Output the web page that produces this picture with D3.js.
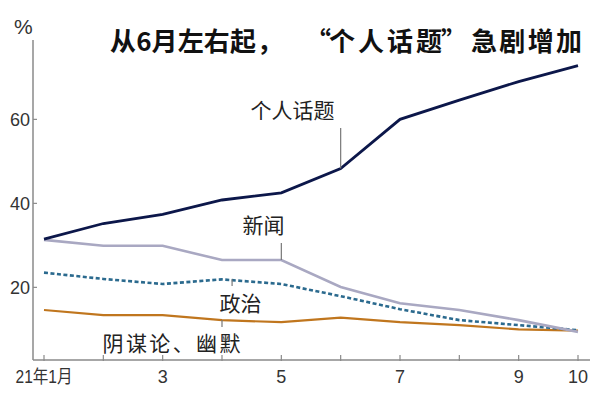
<!DOCTYPE html>
<html>
<head>
<meta charset="utf-8">
<script src="https://cdn.jsdelivr.net/npm/d3@7"></script>
<style>
  body { margin: 0; background: #fff; }
  svg { display: block; }
  .tick-label { font-family: "Liberation Sans Narrow", "Liberation Sans", Arial, "Noto Sans CJK SC", sans-serif; font-size: 18px; fill: #333; }
  .cjk { font-family: "Noto Sans CJK SC", sans-serif; }
</style>
</head>
<body>
<div id="chart"></div>
<script>
// months Jan-Oct 2021
var months = [1, 2, 3, 4, 5, 6, 7, 8, 9, 10];
var personal = [31.5, 35.2, 37.4, 40.8, 42.5, 48.3, 60.0, 64.6, 69.0, 72.8];
var news = [31.3, 29.9, 29.9, 26.5, 26.5, 20.1, 16.2, 14.6, 12.2, 9.4];
var politics = [23.5, 22.0, 20.8, 21.9, 20.8, 17.9, 14.8, 12.2, 11.0, 9.8];
var conspiracy = [14.6, 13.4, 13.4, 12.2, 11.7, 12.8, 11.7, 11.0, 10.0, 9.7];
var yTicks = [20, 40, 60];
var xLabels = {1: "21年1月", 3: "3", 5: "5", 7: "7", 9: "9", 10: "10"};

var svgWidth = 600;
var svgHeight = 396;

var svg = d3.select("#chart")
  .append("svg")
  .attr("width", svgWidth)
  .attr("height", svgHeight);

var x = d3.scaleLinear().domain([1, 10]).range([44, 578]);
var y = d3.scaleLinear().domain([2.7, 78.9]).range([360, 40]);

// axes
var axisColor = "#8a8a8a";
svg.append("line")
  .attr("x1", 33).attr("x2", 33)
  .attr("y1", 40).attr("y2", 360)
  .attr("stroke", axisColor).attr("stroke-width", 1.5);
svg.append("line")
  .attr("x1", 33).attr("x2", 590)
  .attr("y1", 360).attr("y2", 360)
  .attr("stroke", axisColor).attr("stroke-width", 1.5);

// y ticks (inward)
var yAxis = svg.append("g");
yTicks.forEach(function(t) {
  yAxis.append("line")
    .attr("x1", 33).attr("x2", 37)
    .attr("y1", y(t)).attr("y2", y(t))
    .attr("stroke", axisColor).attr("stroke-width", 1.2);
  yAxis.append("text")
    .attr("class", "tick-label")
    .attr("x", 30)
    .attr("y", y(t))
    .attr("dy", "0.36em")
    .attr("text-anchor", "end")
    .text(t);
});

svg.append("text")
  .attr("class", "tick-label")
  .style("font-size", "21px")
  .attr("x", 14)
  .attr("y", 34)
  .text("%");

// x ticks
var xAxis = svg.append("g");
months.forEach(function(m) {
  xAxis.append("line")
    .attr("x1", x(m)).attr("x2", x(m))
    .attr("y1", 355).attr("y2", 361)
    .attr("stroke", axisColor).attr("stroke-width", 1.2);
  if (xLabels[m]) {
    var t = xAxis.append("text")
      .attr("class", "tick-label")
      .attr("x", x(m))
      .attr("y", 383)
      .attr("text-anchor", "middle")
      .text(xLabels[m]);
    // first label is squeezed in the original
    if (m === 1) {
      t.attr("textLength", 57)
        .attr("lengthAdjust", "spacingAndGlyphs");
    }
  }
});

// lines
var line = d3.line()
  .x(function(d, i) { return x(months[i]); })
  .y(function(d) { return y(d); });

svg.append("path")
  .datum(conspiracy)
  .attr("d", line)
  .attr("fill", "none")
  .attr("stroke", "#c0761e")
  .attr("stroke-width", 2.2);

svg.append("path")
  .datum(politics)
  .attr("d", line)
  .attr("fill", "none")
  .attr("stroke", "#2b6a8e")
  .attr("stroke-width", 2.6)
  .attr("stroke-dasharray", "4,2.5");

svg.append("path")
  .datum(news)
  .attr("d", line)
  .attr("fill", "none")
  .attr("stroke", "#a9a8c2")
  .attr("stroke-width", 2.6);

svg.append("path")
  .datum(personal)
  .attr("d", line)
  .attr("fill", "none")
  .attr("stroke", "#0c174a")
  .attr("stroke-width", 2.8);

// leader lines
var leaderColor = "#777";
function leader(x1, y1, y2) {
  svg.append("line")
    .attr("x1", x1).attr("x2", x1)
    .attr("y1", y1).attr("y2", y2)
    .attr("stroke", leaderColor).attr("stroke-width", 1.2);
}
leader(x(6), 128, y(personal[5]));
leader(x(5), 243, y(news[4]));
leader(x(4.17), y(politics[3]), 286);
leader(x(4), y(conspiracy[3]), 327);

// series labels
function label(text, cx, baseline, len) {
  var t = svg.append("text")
    .attr("class", "cjk")
    .attr("x", cx)
    .attr("y", baseline)
    .attr("text-anchor", "middle")
    .attr("font-size", 21)
    .attr("fill", "#222")
    .text(text);
  if (len) t.attr("textLength", len).attr("lengthAdjust", "spacing");
}
label("个人话题", 292.5, 118);
label("新闻", 263.5, 233);
label("政治", 240.5, 311);
label("阴谋论、幽默", 171.5, 351, 138);

// title, set in pieces so the full-width punctuation gets its room
var titleParts = [
  {text: "从6月左右起", x: 110, anchor: "start", len: 146},
  {text: "，", x: 257, anchor: "start"},
  {text: "“", x: 331, anchor: "end"},
  {text: "个人话题", x: 329, anchor: "start", len: 113},
  {text: "”", x: 441, anchor: "start"},
  {text: "急剧增加", x: 582, anchor: "end", len: 111}
];
var title = svg.append("g");
titleParts.forEach(function(p) {
  var t = title.append("text")
    .attr("class", "cjk")
    .attr("x", p.x)
    .attr("y", 51)
    .attr("font-size", 26)
    .attr("font-weight", 700)
    .attr("fill", "#111")
    .attr("text-anchor", p.anchor)
    .text(p.text);
  if (p.len) t.attr("textLength", p.len).attr("lengthAdjust", "spacing");
});
</script>
</body>
</html>
